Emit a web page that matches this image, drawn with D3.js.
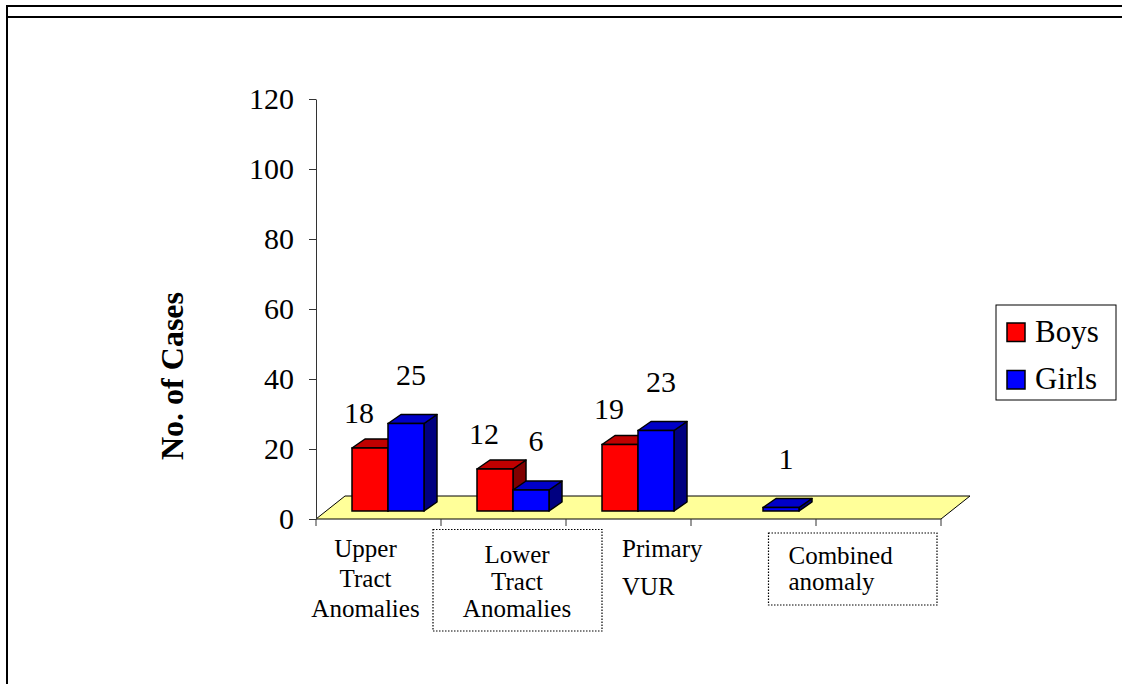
<!DOCTYPE html>
<html>
<head>
<meta charset="utf-8">
<script src="https://cdn.jsdelivr.net/npm/d3@7"></script>
<style>
  html, body { margin: 0; padding: 0; background: #fff; }
  svg { display: block; }
  text { font-family: "Liberation Serif", "Times New Roman", serif; fill: #000; }
</style>
</head>
<body>
<svg id="chart" width="1122" height="684"></svg>
<script>
// Category slots on the floor (last slot is left empty)
const categories = ["Upper Tract Anomalies", "Lower Tract Anomalies", "Primary VUR", "Combined anomaly", ""];
const seriesNames = ["Boys", "Girls"];
const boys  = [18, 12, 19, null, null];
const girls = [25, 6, 23, 1, null];
const yTicks = [0, 20, 40, 60, 80, 100, 120];

// Category caption text boxes under the floor
const captionLines = [
  ["Upper", "Tract", "Anomalies"],
  ["Lower", "Tract", "Anomalies"],
  ["Primary", "VUR"],
  ["Combined", "anomaly"]
];

const colors = {
  Boys:  { front: "#ff0000", top: "#c00000", side: "#800000" },
  Girls: { front: "#0000ff", top: "#0000c8", side: "#000080" }
};

const serif = '"Liberation Serif", "Times New Roman", serif';
const svg = d3.select("#chart");

// Page frame lines
svg.append("line").attr("x1", 6).attr("x2", 1122).attr("y1", 6).attr("y2", 6)
  .attr("stroke", "#000").attr("stroke-width", 2);
svg.append("line").attr("x1", 6).attr("x2", 1122).attr("y1", 17).attr("y2", 17)
  .attr("stroke", "#000").attr("stroke-width", 2);
svg.append("line").attr("x1", 7).attr("x2", 7).attr("y1", 5).attr("y2", 684)
  .attr("stroke", "#000").attr("stroke-width", 2);

// Scales
const x = d3.scaleBand().domain(categories).range([316, 941]).padding(0);
const y = d3.scaleLinear().domain([0, 120]).range([519, 99]);

// Floor depth and bar depth (oblique projection)
const floorDx = 29, floorDy = -23;
const barDx = 13, barDy = -9;
// bars sit partway into the floor
const sitDx = 9.5, sitDy = -8;
const groupW = 72;
const xs = d3.scaleBand().domain(seriesNames).range([0, groupW]);

// Floor
const y0 = y(0);
svg.append("polygon")
  .attr("points", [
    [x.range()[0], y0], [x.range()[1], y0],
    [x.range()[1] + floorDx, y0 + floorDy], [x.range()[0] + floorDx, y0 + floorDy]
  ].map(p => p.join(",")).join(" "))
  .attr("fill", "#ffff99").attr("stroke", "#000").attr("stroke-width", 1);

// Category ticks along the front edge
const catEdges = categories.map(c => x(c)).concat([x.range()[1]]);
svg.append("g").selectAll("line").data(catEdges).join("line")
  .attr("x1", d => d).attr("x2", d => d).attr("y1", y0).attr("y2", y0 + 7)
  .attr("stroke", "#333").attr("stroke-width", 1);

// Value axis
const yAxis = d3.axisLeft(y).tickValues(yTicks).tickSize(7).tickSizeOuter(0).tickPadding(15);
const ag = svg.append("g").attr("transform", `translate(${x.range()[0]},0)`).call(yAxis);
ag.select(".domain").attr("stroke", "#333");
ag.selectAll(".tick line").attr("stroke", "#333");
ag.selectAll(".tick text")
  .style("font-family", serif)
  .style("font-size", "30px").attr("fill", "#000");

// Axis title
svg.append("text")
  .attr("transform", "translate(183,376) rotate(-90)")
  .attr("text-anchor", "middle")
  .style("font-family", serif)
  .style("font-size", "32px").style("font-weight", "bold")
  .text("No. of Cases");

// Bars
const bars = [];
categories.forEach((c, i) => {
  [["Boys", boys[i]], ["Girls", girls[i]]].forEach(([s, v]) => {
    if (v == null) return;
    bars.push({ cat: c, series: s, value: v });
  });
});

const barG = svg.append("g");
bars.forEach(b => {
  const bx = x(b.cat) + (x.bandwidth() - groupW) / 2 + sitDx + xs(b.series);
  const bw = xs.bandwidth();
  const base = y(0) + sitDy;
  const top = y(b.value) + sitDy;
  const col = colors[b.series];
  const g = barG.append("g");
  g.append("polygon")
    .attr("points", [[bx + bw, top], [bx + bw + barDx, top + barDy], [bx + bw + barDx, base + barDy], [bx + bw, base]]
      .map(p => p.join(",")).join(" "))
    .attr("fill", col.side).attr("stroke", "#000").attr("stroke-width", 1.5).attr("stroke-linejoin", "round");
  g.append("polygon")
    .attr("points", [[bx, top], [bx + barDx, top + barDy], [bx + bw + barDx, top + barDy], [bx + bw, top]]
      .map(p => p.join(",")).join(" "))
    .attr("fill", col.top).attr("stroke", "#000").attr("stroke-width", 1.5).attr("stroke-linejoin", "round");
  g.append("rect")
    .attr("x", bx).attr("y", top).attr("width", bw).attr("height", base - top)
    .attr("fill", col.front).attr("stroke", "#000").attr("stroke-width", 1.5);
  b.cx = bx + bw / 2;
  b.top = top;
});

// Value labels
svg.append("g").selectAll("text").data(bars).join("text")
  .attr("x", d => d.cx + (d.series === "Boys" ? -11 : 5))
  .attr("y", d => d.top - (d.series === "Boys" ? 25.5 : 39))
  .attr("text-anchor", "middle")
  .style("font-family", serif)
  .style("font-size", "30px")
  .text(d => d.value);

// Category caption boxes
const capFont = 25;
function caption(i, opts) {
  const g = svg.append("g");
  const cx = x(categories[i]) + x.bandwidth() / 2;
  if (opts.box) {
    g.append("rect")
      .attr("x", cx + opts.box[0]).attr("y", y0 + opts.box[1])
      .attr("width", opts.box[2]).attr("height", opts.box[3])
      .attr("fill", "none").attr("stroke", "#000").attr("stroke-width", 1.2)
      .attr("stroke-dasharray", "1.5,1.5");
  }
  captionLines[i].forEach((line, k) => {
    g.append("text")
      .attr("x", cx + opts.dx)
      .attr("y", y0 + opts.first + k * opts.lead)
      .attr("text-anchor", opts.anchor)
      .style("font-family", serif)
      .style("font-size", capFont + "px")
      .text(line);
  });
}
caption(0, { dx: -13, first: 37.5, lead: 30, anchor: "middle" });
caption(1, { dx: 13.5, first: 44, lead: 27, anchor: "middle", box: [-70.5, 10.5, 169, 101.5] });
caption(2, { dx: -6.5, first: 37.5, lead: 38.5, anchor: "start" });
caption(3, { dx: 35, first: 45, lead: 26, anchor: "start", box: [15, 14, 168.5, 72] });

// Legend
const lg = svg.append("g");
lg.append("rect").attr("x", 996).attr("y", 305).attr("width", 120).attr("height", 95)
  .attr("fill", "#fff").attr("stroke", "#000").attr("stroke-width", 1);
seriesNames.forEach((s, i) => {
  const yy = 323 + i * 47.5;
  lg.append("rect").attr("x", 1007).attr("y", yy).attr("width", 18).attr("height", 18.5)
    .attr("fill", colors[s].front).attr("stroke", "#000").attr("stroke-width", 1.5);
  lg.append("text").attr("x", 1035).attr("y", yy + 18.5)
    .style("font-family", serif)
    .style("font-size", "31px").text(s);
});
</script>
</body>
</html>
